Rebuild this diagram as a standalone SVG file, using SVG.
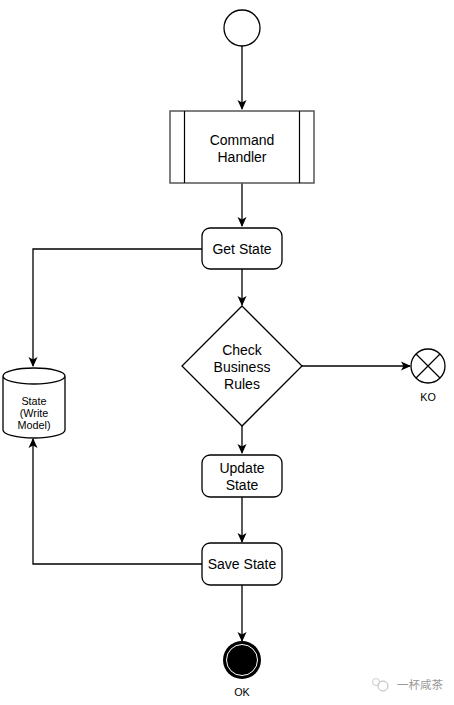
<svg xmlns="http://www.w3.org/2000/svg" width="454" height="705" viewBox="0 0 454 705">
<style>
.n{fill:#fff;stroke:#000;stroke-width:1.3}
.t{font-family:"Liberation Sans",Arial,sans-serif;font-size:14px;fill:#000;text-anchor:middle}
.s{font-family:"Liberation Sans",Arial,sans-serif;font-size:10.8px;fill:#000;text-anchor:middle}
.c{fill:none;stroke:#000;stroke-width:1.3}
</style>
<defs>
<marker id="a" viewBox="0 0 10 10" refX="9" refY="5" markerWidth="10" markerHeight="10" markerUnits="userSpaceOnUse" orient="auto">
<path d="M0,0.5 L10,5 L0,9.5 L2.5,5 z" fill="#000"/>
</marker>
</defs>
<g id="connectors">
<path class="c" d="M242,46 V109" marker-end="url(#a)"/>
<path class="c" d="M242,183 V226" marker-end="url(#a)"/>
<path class="c" d="M202,249 H33 V366" marker-end="url(#a)"/>
<path class="c" d="M242,269 V305" marker-end="url(#a)"/>
<path class="c" d="M302,366 H410" marker-end="url(#a)"/>
<path class="c" d="M242,426 V453" marker-end="url(#a)"/>
<path class="c" d="M242,497 V542" marker-end="url(#a)"/>
<path class="c" d="M202,564 H33 V439" marker-end="url(#a)"/>
<path class="c" d="M242,585 V641" marker-end="url(#a)"/>
</g>
<g id="start"><circle class="n" cx="242" cy="28" r="18"/></g>
<g id="command-handler">
<rect x="170" y="111" width="144" height="72" fill="#fff" stroke="#555" stroke-width="1.5"/>
<path d="M184.5,111 V183 M299.5,111 V183" stroke="#000" stroke-width="1.2"/>
<text class="t" x="242" y="145">Command</text>
<text class="t" x="242" y="162">Handler</text>
</g>
<g id="get-state">
<rect class="n" x="202" y="228" width="80" height="41" rx="8"/>
<text class="t" x="242" y="254">Get State</text>
</g>
<g id="check-rules">
<path class="n" d="M242,306 L302,366 L242,426 L182,366 Z"/>
<text class="t" x="242" y="355">Check</text>
<text class="t" x="242" y="372">Business</text>
<text class="t" x="242" y="389">Rules</text>
</g>
<g id="ko">
<circle class="n" cx="428" cy="366" r="17"/>
<path d="M416,354 L440,378 M440,354 L416,378" stroke="#000" stroke-width="1.2"/>
<text class="s" x="428" y="401">KO</text>
</g>
<g id="state-store">
<path class="n" d="M3,376 V430 A31,8 0 0 0 65,430 V376 A31,8 0 0 0 3,376 A31,8 0 0 0 65,376"/>
<text class="s" x="34" y="405">State</text>
<text class="s" x="34" y="417">(Write</text>
<text class="s" x="34" y="429">Model)</text>
</g>
<g id="update-state">
<rect class="n" x="202" y="455" width="80" height="42" rx="8"/>
<text class="t" x="242" y="473">Update</text>
<text class="t" x="242" y="490">State</text>
</g>
<g id="save-state">
<rect class="n" x="202" y="543" width="80" height="42" rx="8"/>
<text class="t" x="242" y="569">Save State</text>
</g>
<g id="ok">
<circle cx="242" cy="660" r="19" fill="#000"/>
<circle cx="242" cy="660" r="15.5" fill="#000" stroke="#fff" stroke-width="1"/>
<text class="s" x="242" y="696">OK</text>
</g>
<g id="watermark">
<text x="397" y="689" font-family="'Noto Sans CJK SC',sans-serif" font-size="11.5" fill="#999" text-anchor="start">一杯咸茶</text>
<circle cx="383" cy="686" r="5" fill="none" stroke="#bbb" stroke-width="1"/>
<circle cx="376" cy="682" r="3.5" fill="none" stroke="#ccc" stroke-width="1"/>
</g>
</svg>
